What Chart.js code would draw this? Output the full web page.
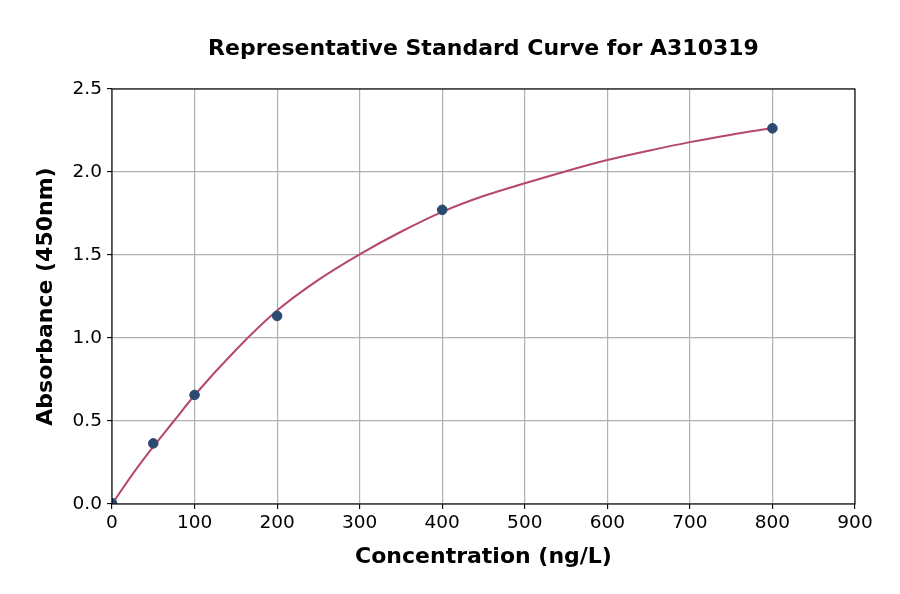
<!DOCTYPE html>
<html>
<head>
<meta charset="utf-8">
<script src="https://cdn.jsdelivr.net/npm/chart.js@4.4.1/dist/chart.umd.min.js"></script>
<style>
  html, body { margin: 0; padding: 0; background: #ffffff; }
  #wrap { width: 900px; height: 594px; position: relative; }
</style>
</head>
<body>
<div id="wrap"><canvas id="curveChart"></canvas></div>
<script>
const stdConc = [0, 50, 100, 200, 400, 800];
const stdAbs = [0.005, 0.365, 0.657, 1.133, 1.772, 2.263];

// fitted curve
const curveConc = [0, 25, 50, 75, 100, 150, 200, 250, 300, 350, 400, 450, 500, 550, 600, 650, 700, 750, 800];
const curveAbs = [0.0, 0.18, 0.345, 0.50, 0.655, 0.928, 1.165, 1.35, 1.504, 1.64, 1.76, 1.855, 1.932, 2.005, 2.072, 2.128, 2.18, 2.225, 2.265];

const xTicks = [0, 100, 200, 300, 400, 500, 600, 700, 800, 900];
const yTicks = [0.0, 0.5, 1.0, 1.5, 2.0, 2.5];

const titleText = 'Representative Standard Curve for A310319';
const FONT = "'DejaVu Sans', sans-serif";

// matplotlib-like frame + centred title over the plot area
const framePlugin = {
    id: 'frame',
    afterDatasetsDraw(chart) {
        const { ctx, chartArea: a } = chart;
        ctx.save();
        ctx.strokeStyle = '#000000';
        ctx.lineWidth = 1.1;
        ctx.strokeRect(a.left, a.top, a.right - a.left, a.bottom - a.top);
        ctx.restore();
    },
    afterDraw(chart) {
        const { ctx, chartArea: a } = chart;
        ctx.save();
        ctx.font = 'bold 22px ' + FONT;
        ctx.fillStyle = '#000000';
        ctx.textAlign = 'center';
        ctx.textBaseline = 'middle';
        ctx.fillText(titleText, (a.left + a.right) / 2, 49);
        ctx.restore();
    }
};

const ctx = document.getElementById('curveChart').getContext('2d');

new Chart(ctx, {
    type: 'scatter',
    data: {
        datasets: [
            {
                type: 'line',
                label: 'fit',
                data: curveConc.map((x, i) => ({ x, y: curveAbs[i] })),
                borderColor: '#b5476d',
                borderWidth: 2,
                pointRadius: 0,
                fill: false,
                cubicInterpolationMode: 'monotone',
                order: 2
            },
            {
                label: 'standards',
                data: stdConc.map((x, i) => ({ x, y: stdAbs[i] })),
                backgroundColor: '#2c4a70',
                borderColor: '#2c4a70',
                pointRadius: 4.8,
                order: 1
            }
        ]
    },
    options: {
        responsive: true,
        maintainAspectRatio: false,
        animation: false,
        layout: { padding: { top: 89, left: 0, right: 45, bottom: 0 } },
        plugins: {
            legend: { display: false },
            tooltip: { enabled: false },
            title: { display: false }
        },
        scales: {
            x: {
                type: 'linear',
                min: 0, max: 900,
                afterBuildTicks: s => { s.ticks = xTicks.map(v => ({ value: v })); },
                afterFit: s => { s.height = 90; },
                grid: { color: '#b0b0b0', lineWidth: 1.2, tickColor: '#000000', tickLength: 5, tickWidth: 1.1 },
                border: { display: false },
                ticks: { color: '#000000', font: { family: FONT, size: 18.5 }, padding: 3, maxRotation: 0 },
                title: {
                    display: true, text: 'Concentration (ng/L)', color: '#000000',
                    font: { family: FONT, size: 22, weight: 'bold' },
                    padding: { top: 0, bottom: 24 }
                }
            },
            y: {
                type: 'linear',
                min: 0, max: 2.5,
                afterBuildTicks: s => { s.ticks = yTicks.map(v => ({ value: v })); },
                afterFit: s => { s.width = 112; },
                grid: { color: '#b0b0b0', lineWidth: 1.2, tickColor: '#000000', tickLength: 5, tickWidth: 1.1 },
                border: { display: false },
                ticks: { color: '#000000', font: { family: FONT, size: 18.5 }, padding: 5, callback: v => v.toFixed(1) },
                title: {
                    display: true, text: 'Absorbance (450nm)', color: '#000000',
                    font: { family: FONT, size: 22, weight: 'bold' },
                    padding: { top: 33, bottom: 0 }
                }
            }
        }
    },
    plugins: [framePlugin]
});
</script>
</body>
</html>
